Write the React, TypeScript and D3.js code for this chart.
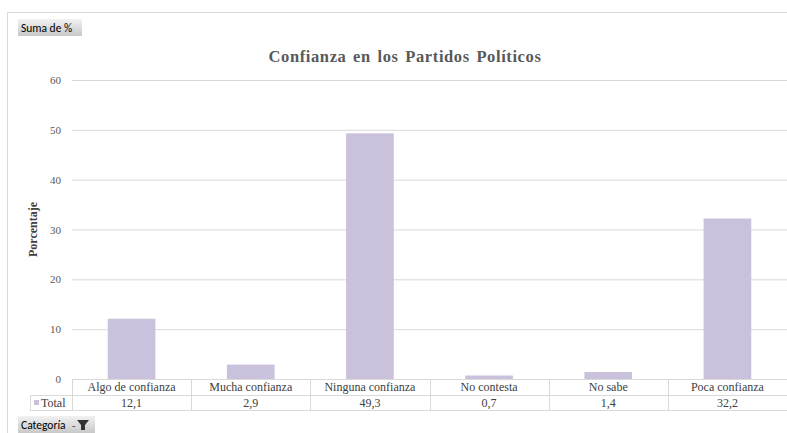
import React from "react";
import * as d3 from "d3";

const categories = ["Algo de confianza", "Mucha confianza", "Ninguna confianza", "No contesta", "No sabe", "Poca confianza"];
const values = [12.1, 2.9, 49.3, 0.7, 1.4, 32.2];
const valueLabels = ["12,1", "2,9", "49,3", "0,7", "1,4", "32,2"];
const yTicks = [0, 10, 20, 30, 40, 50, 60];
const seriesName = "Total";

export default function App() {
  const W = 787, H = 433;
  const left = 72, right = 787, top = 80, bottom = 379;
  const x = d3.scaleBand<string>().domain(categories).range([left, right]).paddingInner(0).paddingOuter(0);
  const y = d3.scaleLinear().domain([0, 60]).range([bottom, top]);
  const bw = x.bandwidth() * 0.4;
  const row1 = bottom, row2 = 395, row3 = 410;
  const grid = "#d9d9d9";
  const serif = { fontFamily: '"Liberation Serif"' };
  const sans = { fontFamily: 'Carlito' };
  const barColor = "#cac1dd";
  return (
    <svg width={W} height={H} style={{ position: "absolute", left: 0, top: 0, background: "#fff" }}>
      <defs>
        <linearGradient id="btn" x1="0" y1="0" x2="0" y2="1">
          <stop offset="0" stopColor="#f2f2f2" />
          <stop offset="1" stopColor="#c8c8c8" />
        </linearGradient>
      </defs>
      {/* outer border */}
      <line x1={7.5} y1={12.5} x2={W} y2={12.5} stroke={grid} />
      <line x1={7.5} y1={12.5} x2={7.5} y2={H} stroke={grid} />
      {/* Suma de % button */}
      <rect x={18} y={19} width={64} height={17} fill="url(#btn)" />
      <text x={21} y={31.5} style={sans} fontSize={11.5} fill="#000">Suma de %</text>
      {/* title */}
      <text x={405} y={62} textAnchor="middle" style={{ ...serif, wordSpacing: "2px", letterSpacing: "0.6px" }} fontWeight="bold" fontSize={16.5} fill="#595959">Confianza en los Partidos Políticos</text>
      {/* grid + ticks */}
      {yTicks.map(t => (
        <g key={t}>
          {t > 0 && <line x1={left} x2={right} y1={y(t) + 0.5} y2={y(t) + 0.5} stroke={grid} />}
          <text x={61} y={y(t) + 4} textAnchor="end" style={serif} fontSize={11} fill="#595959">{t}</text>
        </g>
      ))}
      {/* y axis title */}
      <text transform={`translate(37,${(top + bottom) / 2}) rotate(-90)`} textAnchor="middle" style={serif} fontWeight="bold" fontSize={12} fill="#404040">Porcentaje</text>
      {/* bars */}
      {categories.map((c, i) => (
        <rect key={c} x={(x(c) as number) + (x.bandwidth() - bw) / 2} y={y(values[i])} width={bw} height={bottom - y(values[i])} fill={barColor} />
      ))}
      {/* table */}
      <line x1={left} x2={right} y1={row1 + 0.5} y2={row1 + 0.5} stroke={grid} />
      <line x1={30} x2={right} y1={row2 + 0.5} y2={row2 + 0.5} stroke={grid} />
      <line x1={30} x2={right} y1={row3 + 0.5} y2={row3 + 0.5} stroke={grid} />
      <line x1={30.5} x2={30.5} y1={row2} y2={row3} stroke={grid} />
      <line x1={left + 0.5} x2={left + 0.5} y1={row1} y2={row3} stroke={grid} />
      {categories.map((c, i) => (
        <g key={"t" + c}>
          {i > 0 && <line x1={Math.round(x(c) as number) + 0.5} x2={Math.round(x(c) as number) + 0.5} y1={row1} y2={row3} stroke={grid} />}
          <text x={(x(c) as number) + x.bandwidth() / 2} y={row1 + 12} textAnchor="middle" style={serif} fontSize={12} fill="#404040">{c}</text>
          <text x={(x(c) as number) + x.bandwidth() / 2} y={row2 + 12} textAnchor="middle" style={serif} fontSize={12} fill="#404040">{valueLabels[i]}</text>
        </g>
      ))}
      <rect x={34} y={400} width={5} height={5} fill={barColor} />
      <text x={41} y={row2 + 12} style={serif} fontSize={12} fill="#404040">{seriesName}</text>
      {/* Categoría button */}
      <rect x={18} y={416} width={77} height={17} fill="url(#btn)" />
      <text x={21} y={428.5} style={sans} fontSize={11.5} fill="#000">Categoría</text>
      <text x={72} y={429} style={sans} fontSize={11} fill="#333">-</text>
      <path d="M77,420 L89,420 L85,425 L85,430 L81,430 L81,425 Z" fill="#333" />
    </svg>
  );
}
